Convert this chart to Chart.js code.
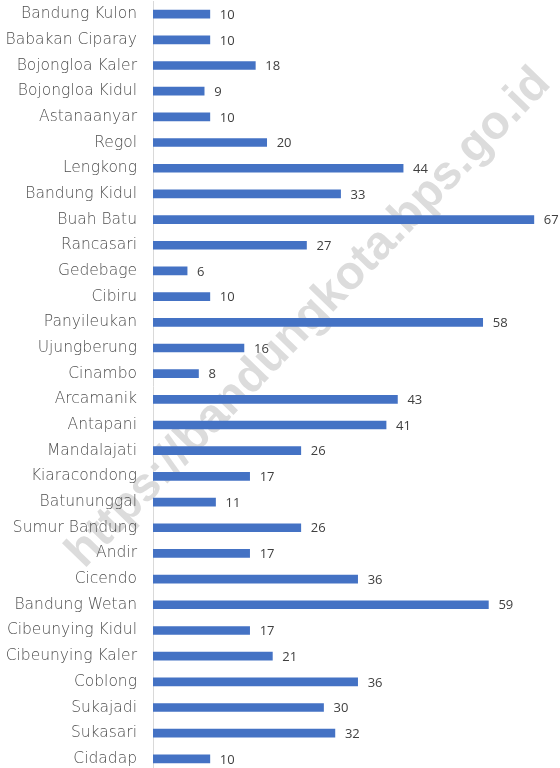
<!DOCTYPE html>
<html><head><meta charset="utf-8">
<script src="https://cdn.jsdelivr.net/npm/chart.js@4"></script>
<style>html,body{margin:0;padding:0;background:#fff;overflow:hidden}#outer{width:560px;height:768px;overflow:hidden;position:relative}#wrap{position:absolute;left:0;top:-24px;width:560px;height:821px}</style>
</head><body><div id="outer"><div id="wrap"><canvas id="c"></canvas></div></div>
<script>
const categories = ["Bandung Kulon","Babakan Ciparay","Bojongloa Kaler","Bojongloa Kidul","Astanaanyar","Regol","Lengkong","Bandung Kidul","Buah Batu","Rancasari","Gedebage","Cibiru","Panyileukan","Ujungberung","Cinambo","Arcamanik","Antapani","Mandalajati","Kiaracondong","Batununggal","Sumur Bandung","Andir","Cicendo","Bandung Wetan","Cibeunying Kidul","Cibeunying Kaler","Coblong","Sukajadi","Sukasari","Cidadap"];
const values = [10,10,18,9,10,20,44,33,67,27,6,10,58,16,8,43,41,26,17,11,26,17,36,59,17,21,36,30,32,10];
const watermarkText = "https://bandungkota.bps.go.id";

const labelPlugin = {
  id:'vals',
  beforeDraw(chart){
    const ctx = chart.ctx;
    ctx.save();
    ctx.translate(309, 318 + 24);
    ctx.rotate(-46 * Math.PI/180);
    ctx.font = 'bold 47px "Liberation Sans", Arial, sans-serif';
    ctx.fillStyle = '#dcdcdc';
    ctx.textAlign = 'center';
    ctx.textBaseline = 'middle';
    ctx.fillText(watermarkText, 0, 0);
    ctx.restore();
  },
  afterDatasetsDraw(chart){
    const ctx = chart.ctx;
    const meta = chart.getDatasetMeta(0);
    ctx.save();
    ctx.font = '13px "Open Sans", "Noto Sans", sans-serif';
    ctx.fillStyle = '#404040';
    ctx.textAlign = 'left';
    ctx.textBaseline = 'middle';
    meta.data.forEach((bar,i)=>{
      ctx.fillText(String(values[i]), bar.x + 10, bar.y + 1);
    });
    ctx.restore();
  }
};

new Chart(document.getElementById('c'), {
  type:'bar',
  data:{labels:categories, datasets:[{data:values, backgroundColor:'#4472C4', barThickness:8, borderWidth:0}]},
  options:{
    indexAxis:'y', responsive:true, maintainAspectRatio:false, animation:false,
    layout:{padding:{top:1,right:0,bottom:0,left:0}},
    plugins:{legend:{display:false}, tooltip:{enabled:false}},
    scales:{
      x:{display:false, min:0, max:71.6},
      y:{
        afterFit(s){ s.width = 153; },
        grid:{display:false, drawTicks:false},
        border:{display:true, color:'#d9d9d9', width:1},
        ticks:{color:'#4f4f4f', padding:16, font:{family:'"DejaVu Sans", sans-serif', size:15.5, weight:200}}
      }
    }
  },
  plugins:[labelPlugin]
});
</script></body></html>
